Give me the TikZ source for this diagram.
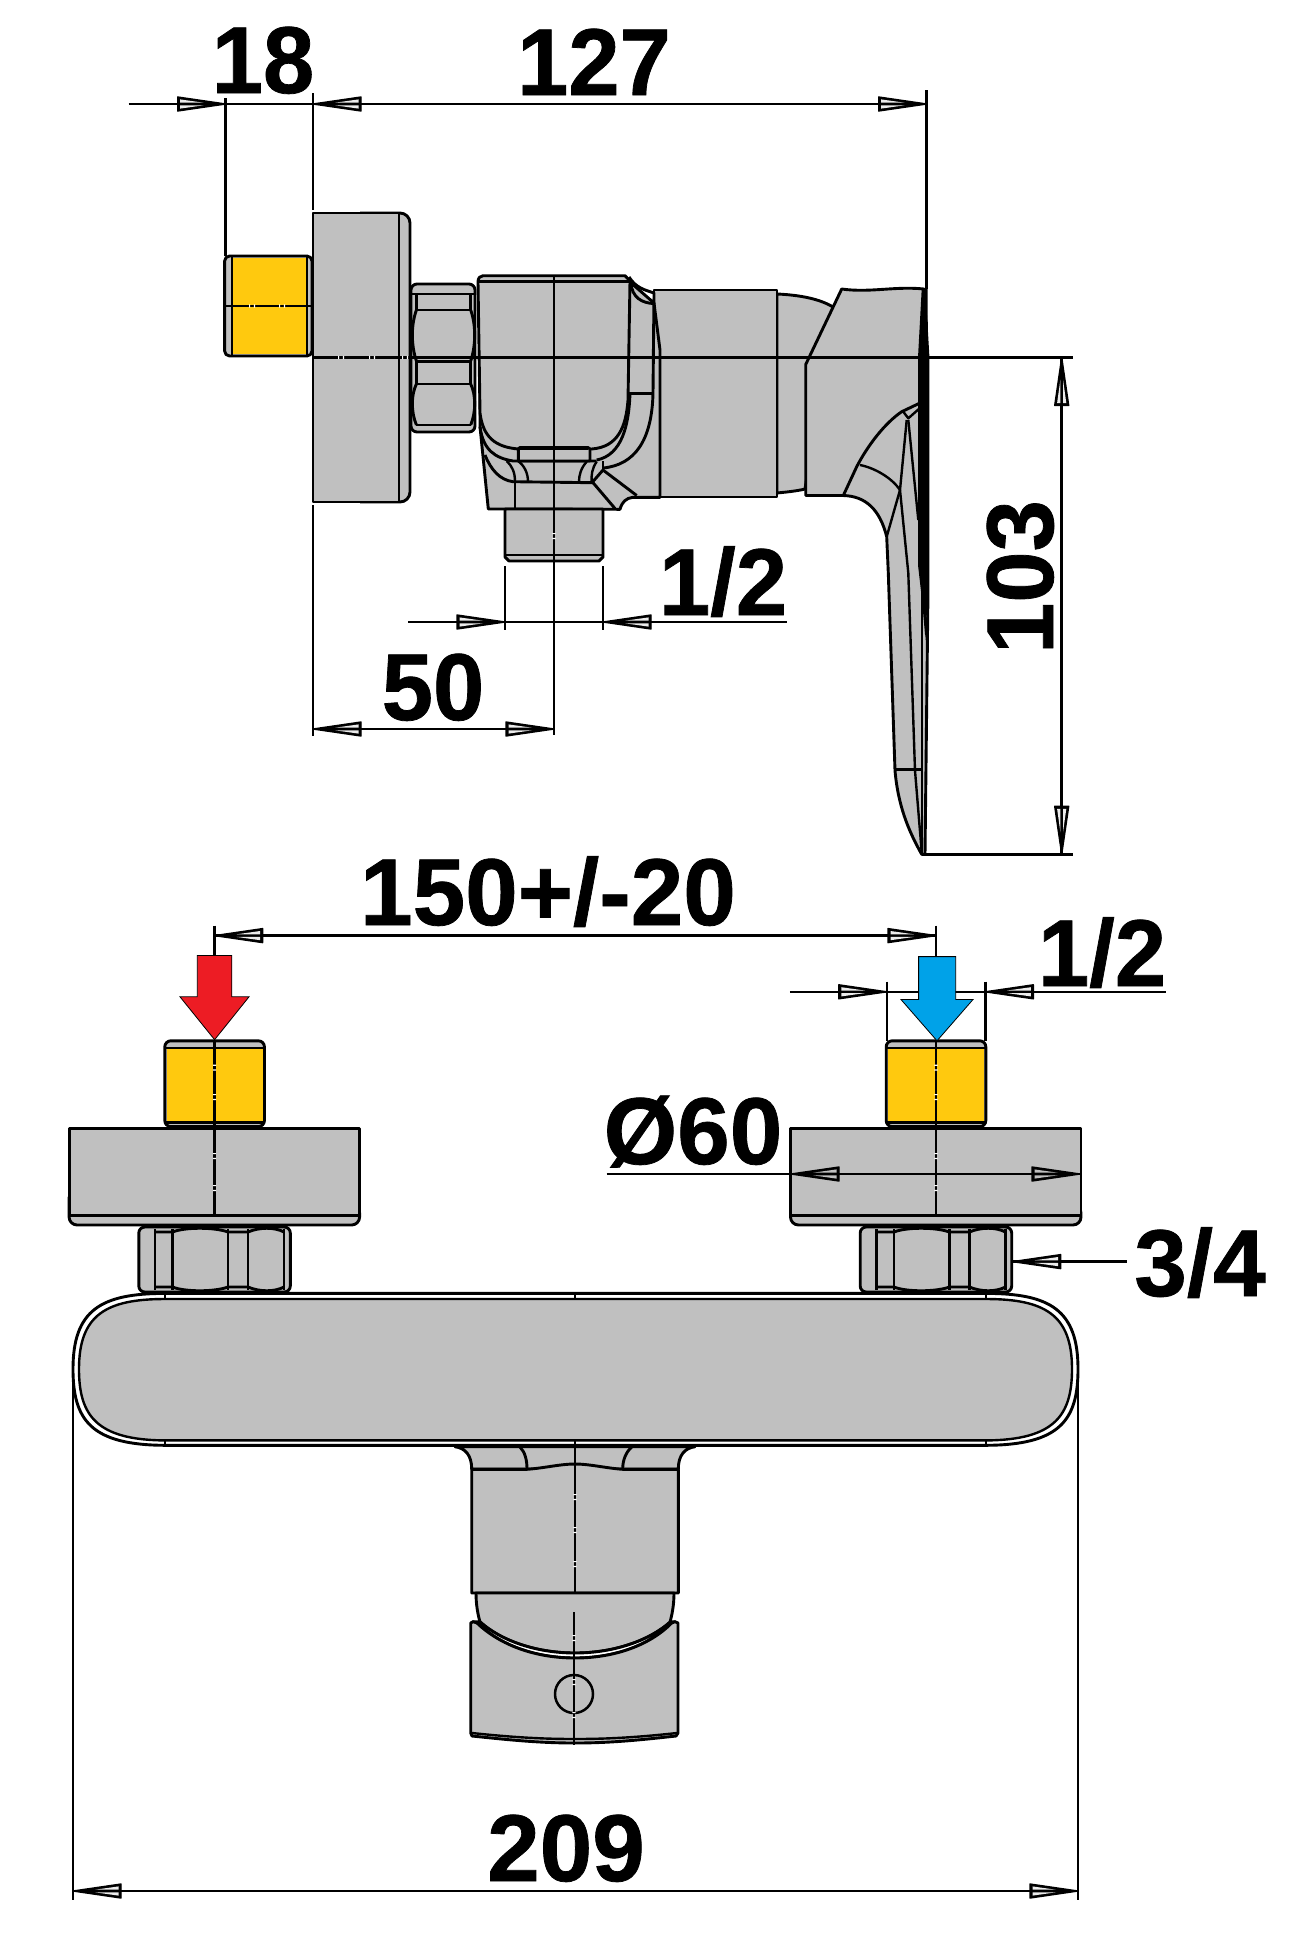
\documentclass[tikz,border=0pt]{standalone}
\usepackage{fontspec}
\setmainfont{Liberation Sans}
\newfontfamily\dimfont{Liberation Sans Bold}[FakeBold=0.8,FakeStretch=0.97]
\newfontfamily\dimfontw{Liberation Sans Bold}[FakeBold=0.8,FakeStretch=0.995]
\definecolor{partgray}{HTML}{C0C0C0}
\definecolor{brass}{HTML}{FFC90E}
\definecolor{hotred}{HTML}{ED1C24}
\definecolor{coldblue}{HTML}{00A2E8}
\newcommand{\tipbody}[1]{%
  \path[fill=black,draw=black,line width=0.7pt,line join=round] (0,0)--(48,7)--(48,-7)--cycle;
  \fill[#1] (22,1.3)--(45.5,1.3)--(45.5,4.6)--cycle;
  \fill[#1] (22,-1.3)--(45.5,-1.3)--(45.5,-4.6)--cycle;}
\newcommand{\hgap}[2]{\fill[white] (#1-3,#2-1.6) rectangle (#1-1.8,#2+1.6) (#1+1.8,#2-1.6) rectangle (#1+3,#2+1.6);}
\newcommand{\vgap}[2]{\fill[white] (#1-1.6,#2-3) rectangle (#1+1.6,#2-1.8) (#1-1.6,#2+1.8) rectangle (#1+1.6,#2+3);}
\tikzset{
  part/.style={draw=black,line width=1.45pt,fill=partgray,line join=round},
  edge/.style={draw=black,line width=1.45pt,line join=round},
  thin edge/.style={draw=black,line width=1.2pt,line join=round},
  dimline/.style={draw=black,line width=1.3pt},
  lab/.style={font=\dimfont\fontsize{47.5}{48}\selectfont,inner sep=0pt,anchor=base,text=black},
  labw/.style={font=\dimfontw\fontsize{47.5}{48}\selectfont,inner sep=0pt,anchor=base,text=black},
  dimtip/.pic={\tipbody{white!85!gray}},
  dimtipg/.pic={\tipbody{partgray}},
}
\begin{document}
\begin{tikzpicture}[x=0.5pt,y=-0.5pt]
\useasboundingbox (0,0) rectangle (1292,1960);
\fill[white] (0,0) rectangle (1292,1960);

%% ===== side view =====
% neck behind the lever
\path[part] (777,294) .. controls (800,295) and (820,299) .. (833,307) -- (805,489) .. controls (797,491) and (787,492) .. (777,493) -- cycle;
% lever
\path[part] (841.7,289) .. controls (870,293) and (895,286) .. (924,289) -- (928,357.5) -- (928,590) -- (925,854.3) -- (921.7,854.3)
  .. controls (908,830) and (898,805) .. (895,770.6) -- (888.3,573) -- (886.7,536.7)
  .. controls (880,510) and (866,496) .. (843,495.5) -- (805.7,495.5) -- (805.7,364.5) -- cycle;
\draw[edge] (843.3,495.5) -- (856.7,466.7) .. controls (868,445) and (885,423) .. (901.7,411.7) -- (920,403);
\draw[thin edge] (903.3,411.7) -- (908.3,418.3) -- (920,408);
\draw[thin edge] (860,465) .. controls (875,468) and (892,478) .. (900,490);
\draw[thin edge] (886.7,536.7) -- (900,490) -- (906.7,420);
\draw[thin edge] (900,490) -- (908.3,573) -- (915,770.6) -- (921.7,852);
\draw[thin edge] (908.3,420) -- (918.3,520);
\draw[thin edge] (895,769.4) -- (921.7,769.4);
\draw[thin edge] (921.7,591) -- (921.7,854);
\fill[black] (921.7,289) -- (927.5,289) -- (928,357.5) -- (928,590) -- (925.5,640) -- (922,600) -- (918,565) -- (918,357.5) -- cycle;
% cylinder
\path[part] (654,290) rectangle (777,497);
% lower body
\path[part] (480,426.7) -- (488.3,509) -- (620,509.3) .. controls (622,502) and (626,498) .. (633,497.3) -- (660,497.3) -- (660,350) -- (654,303) -- (630,282) -- (480,282) -- cycle;
\path[part] (505,509) -- (603,509) -- (603,557) -- (599,561) -- (509,561) -- (505,557) -- cycle;
\draw[edge] (505,555) -- (603,555);
% wall at right of the block
\draw[edge] (630.7,282) .. controls (632,298) and (642,303) .. (654,303.6);
\draw[edge] (629,277) .. controls (636,288) and (645,290) .. (654,293) -- (653,393) .. controls (652,440) and (635,465) .. (603,468);
\draw[edge] (629,393.6) -- (653,393.6);
\draw[edge] (630,393) .. controls (629,425) and (622,455) .. (596.7,460);
% fillets under the block
\draw[edge] (480,426.7) .. controls (483,450) and (495,458) .. (513,461) -- (596.7,461);
\draw[edge] (485,455) .. controls (491,470) and (500,480) .. (513,481.7) -- (593,482.7);
\draw[edge] (515,483) -- (515,508);
\draw[thin edge] (506.7,461) .. controls (512,466) and (515,472) .. (515,481.7);
\draw[thin edge] (518,461) .. controls (525,466) and (528,474) .. (528,481.7);
\draw[thin edge] (586.7,461.7) .. controls (581,468) and (579,475) .. (579,481.7);
\draw[thin edge] (596.7,461.7) .. controls (592,468) and (591,476) .. (591.7,482);
\draw[edge] (591.7,483) -- (603,470) -- (636.7,495.5);
\draw[edge] (593.3,483) -- (615,508.5);
\draw[thin edge] (603,461) -- (603,470);
% block
\path[part] (478,282) .. controls (478,278) and (480,275.7) .. (483,275.7) -- (625,275.7) -- (630,281) -- (628,400)
  .. controls (626,427) and (618,447) .. (591.7,449) -- (518.3,449) .. controls (495,447) and (483,437) .. (480,413) -- cycle;
\draw[edge] (478,281.4) -- (630,281.4);
\path[part] (518.3,461) -- (518.3,449) -- (520,447.5) -- (588,447.5) -- (590,449) -- (590,461) -- cycle;
\draw[draw=black,line width=2.2pt] (520,448) -- (588,448);
% nut
\path[part,rounded corners=3pt] (411,284) rectangle (475,432);
\draw[edge] (411,294) -- (475,294);
\draw[edge] (416,310) -- (471,310) (416,361.4) -- (471,361.4) (416,384) -- (471,384) (416,425) -- (471,425);
\draw[edge] (416.4,294) -- (416.4,310) (470.7,294) -- (470.7,310) (416.4,361) -- (416.4,384) (470.7,361) -- (470.7,384);
\draw[edge] (416.4,310) .. controls (411,325) and (411,345) .. (416.4,361);
\draw[edge] (470.7,310) .. controls (476,325) and (476,345) .. (470.7,361);
\draw[edge] (416.4,384) .. controls (411,395) and (411,412) .. (416.4,425);
\draw[edge] (470.7,384) .. controls (476,395) and (476,412) .. (470.7,425);
% flange
\path[part,rounded corners=5pt] (360,213) -- (410,213) -- (410,502) -- (360,502);
\path[part] (313,213) rectangle (399,502);
% brass connector
\path[part,rounded corners=2.5pt] (224.6,256) rectangle (312,356);
\fill[brass] (232,258) rectangle (307,354.4);
\draw[edge] (232,256) -- (232,356) (307,256) -- (307,356);
\draw[edge] (224.6,306) -- (312,306);
% centre lines
\draw[edge] (313,357.5) -- (1072.7,357.5);
\draw[edge] (554,275.7) -- (554,735);
\hgap{252}{306}\hgap{282}{306}\hgap{341}{357.5}\hgap{372}{357.5}\hgap{405}{357.5}
\vgap{554}{536}

%% ===== side view dimensions =====
\coordinate (dA) at (128.6,104);
\coordinate (dB) at (225.7,104);
\coordinate (dC) at (313,104);
\coordinate (dD) at (926.7,104);
\draw[dimline] (dA) -- (dD);
\draw[dimline] (225.7,98) -- (225.7,256);
\draw[dimline] (313,93) -- (313,210);
\draw[dimline] (313,505) -- (313,736);
\draw[dimline] (926.7,90) -- (926.7,289);
\pic at (dB) [rotate=180] {dimtip};
\pic at (dC) {dimtip};
\pic at (dD) [rotate=180] {dimtip};
\node[lab] (n18) at (263,93) {18};
\node[lab] (n127) at (594,95) {127};
% 103
\coordinate (eA) at (1061.7,357.5);
\coordinate (eB) at (1061.7,854.3);
\draw[dimline] (925,854.3) -- (1072.7,854.3);
\draw[dimline] (eA) -- (eB);
\pic at (eA) [rotate=-90] {dimtip};
\pic at (eB) [rotate=90] {dimtip};
\node[lab,rotate=90] (n103) at (1053,577) {103};
% 1/2 (stem)
\coordinate (fA) at (408,622);
\coordinate (fB) at (505,622);
\coordinate (fC) at (603,622);
\coordinate (fD) at (786.7,622);
\draw[dimline] (fA) -- (fD);
\draw[dimline] (505,566) -- (505,630);
\draw[dimline] (603,566) -- (603,630);
\pic at (fB) [rotate=180] {dimtip};
\pic at (fC) {dimtip};
\node[lab] (n12a) at (723,615) {1/2};
% 50
\coordinate (gA) at (313,729);
\coordinate (gB) at (554,729);
\draw[dimline] (gA) -- (gB);
\pic at (gA) {dimtip};
\pic at (gB) [rotate=180] {dimtip};
\node[lab] (n50) at (433,720) {50};

%% ===== front view =====
% neck with fillets
\path[part] (455,1446.7) .. controls (465,1448) and (471.7,1455) .. (471.7,1469) -- (678.3,1469) .. controls (678.3,1455) and (685,1448) .. (695,1446.7) -- cycle;
\draw[edge] (520,1447) .. controls (525,1452) and (527,1460) .. (527,1469);
\draw[edge] (631.7,1447) .. controls (626,1452) and (622.7,1460) .. (622.7,1469);
% box
\path[part] (471.7,1469.3) -- (527,1469.3) .. controls (545,1468) and (560,1464) .. (575,1464) .. controls (590,1464) and (605,1468) .. (622.7,1469.3) -- (678.3,1469.3) -- (678.3,1593) -- (471.7,1593) -- cycle;
% lever
\path[part] (476,1593) .. controls (476,1605) and (478,1615) .. (480,1622) .. controls (500,1640) and (535,1653) .. (575,1653) .. controls (615,1653) and (650,1640) .. (670,1622) .. controls (672,1615) and (674,1605) .. (674,1593) -- cycle;
\path[draw=black,line width=1.45pt,fill=white,line join=round] (473,1621.7) -- (477,1623) .. controls (500,1645) and (535,1658) .. (575,1658) .. controls (615,1658) and (650,1645) .. (671.7,1623) -- (675,1621.7) -- (671,1621.7) .. controls (650,1640) and (615,1653) .. (575,1653) .. controls (535,1653) and (500,1640) .. (480,1621.7) -- cycle;
\path[part] (473,1621.7) -- (477,1623) .. controls (500,1645) and (535,1658) .. (575,1658) .. controls (615,1658) and (650,1645) .. (671.7,1623) -- (675,1621.7) -- (678,1623) -- (678,1733) -- (676,1736)
  .. controls (640,1740) and (610,1743) .. (575,1743) .. controls (540,1743) and (510,1740) .. (472,1736) -- (470.7,1733) -- (470.7,1623) -- cycle;
\draw[thin edge] (472,1733) .. controls (510,1737) and (540,1739) .. (575,1739) .. controls (610,1739) and (640,1737) .. (677,1733);
\node[draw=black,line width=1.25pt,circle,minimum size=19pt,inner sep=0pt] (screw) at (574,1694) {};
% bar
\path[draw=black,line width=1.45pt,fill=white] (165,1293.4) -- (986,1293.4) .. controls (1050,1293.4) and (1078,1310) .. (1078,1369) .. controls (1078,1420) and (1060,1445) .. (986,1445.3) -- (165,1445.3) .. controls (91,1445) and (73,1420) .. (73,1369) .. controls (73,1310) and (101,1293.4) .. (165,1293.4) -- cycle;
\path[draw=black,line width=1.2pt,fill=partgray] (165,1299) -- (986,1299) .. controls (1045,1299) and (1072,1315) .. (1072,1369) .. controls (1072,1415) and (1055,1440) .. (986,1440.4) -- (165,1440.4) .. controls (96,1440) and (79,1415) .. (79,1369) .. controls (79,1315) and (106,1299) .. (165,1299) -- cycle;
\draw[edge] (165,1293.4) -- (165,1299) (165,1440.4) -- (165,1445.3) (986,1293.4) -- (986,1299) (986,1440.4) -- (986,1445.3) (575,1293.4) -- (575,1299);
% centre lines of the neck and lever
\draw[edge] (575,1440) -- (575,1593);
\draw[edge] (574,1612) -- (574,1745);
\vgap{575}{1497}\vgap{575}{1530}\vgap{575}{1564}
\vgap{574}{1638}\vgap{574}{1682}\vgap{574}{1715}
% fittings
\foreach \cx in {214.6,936}{
\begin{scope}[shift={(\cx,0)}]
  \path[part,rounded corners=3pt] (-75.8,1227) rectangle (75.7,1292);
  \draw[edge] (-59.6,1229) -- (-59.6,1290);
  \draw[edge] (-42,1229) -- (-42,1290);
  \draw[edge] (13.4,1229) -- (13.4,1290);
  \draw[edge] (33.4,1229) -- (33.4,1290);
  \draw[edge] (69.4,1229) -- (69.4,1290);
  \draw[edge] (-59.6,1232) -- (-42,1232) .. controls (-30,1227) and (0,1227) .. (13.4,1232) -- (33.4,1232) .. controls (45,1227) and (60,1227) .. (69.4,1232);
  \draw[edge] (-59.6,1287) -- (-42,1287) .. controls (-30,1292) and (0,1292) .. (13.4,1287) -- (33.4,1287) .. controls (45,1292) and (60,1292) .. (69.4,1287);
  \path[part,rounded corners=4pt] (-145.5,1205) |- (145,1225) |- cycle;
  \path[part] (-145.5,1128.5) rectangle (145,1215.7);
  \path[part,rounded corners=3pt] (-49.8,1040.8) rectangle (49.8,1126.6);
  \fill[brass] (-48,1048.5) rectangle (48,1122);
  \draw[edge] (-49.8,1048) -- (49.8,1048) (-49.8,1122.5) -- (49.8,1122.5);
  \draw[edge] (0,1040.8) -- (0,1126.6);
  \draw[edge] (0,1130) -- (0,1215.7);
  \vgap{0}{1067.6}\vgap{0}{1097}\vgap{0}{1156}\vgap{0}{1188}
\end{scope}
}

%% ===== front view dimensions =====
% 150+/-20
\coordinate (hA) at (214.6,935.6);
\coordinate (hB) at (936,935.6);
\draw[dimline] (hA) -- (hB);
\draw[dimline] (214.6,925.6) -- (214.6,960);
\draw[dimline] (936,925.6) -- (936,960);
\pic at (hA) {dimtip};
\pic at (hB) [rotate=180] {dimtip};
\node[labw] (n150) at (548,925) {150+/-20};
% 1/2 (front)
\coordinate (iA) at (789.8,991.8);
\coordinate (iB) at (886.8,991.8);
\coordinate (iC) at (985.3,991.8);
\coordinate (iD) at (1165.7,991.8);
\draw[dimline] (iA) -- (iD);
\draw[dimline] (886.8,981.5) -- (886.8,1040.8);
\draw[dimline] (985.3,981.5) -- (985.3,1040.8);
\pic at (iB) [rotate=180] {dimtip};
\pic at (iC) {dimtip};
\node[lab] (n12b) at (1102,986) {1/2};
% inlet arrows
\path[fill=hotred,draw=black,line width=0.4pt] (197.3,955.5) -- (231.8,955.5) -- (231.8,996.8) -- (249,996.8) -- (214.6,1039.7) -- (180,996.8) -- (197.3,996.8) -- cycle;
\path[fill=coldblue,draw=black,line width=0.4pt] (918.6,956.6) -- (955.7,956.6) -- (955.7,999.5) -- (973,999.5) -- (937,1040.8) -- (901,999.5) -- (918.6,999.5) -- cycle;
% diameter 60
\coordinate (jA) at (606.6,1174);
\coordinate (jB) at (791,1174);
\coordinate (jC) at (1080,1174);
\draw[dimline] (jA) -- (jC);
\pic at (jB) {dimtipg};
\pic at (jC) [rotate=180] {dimtipg};
\node[labw] (n60) at (693,1164) {Ø60};
% 3/4
\coordinate (kA) at (1012.6,1261.6);
\coordinate (kB) at (1127,1261.6);
\draw[dimline] (kA) -- (kB);
\pic at (kA) {dimtip};
\node[labw] (n34) at (1200,1296) {3/4};
% 209
\coordinate (lA) at (73,1891);
\coordinate (lB) at (1078,1891);
\draw[dimline] (lA) -- (lB);
\draw[dimline] (73,1369) -- (73,1900);
\draw[dimline] (1078,1369) -- (1078,1900);
\pic at (lA) {dimtip};
\pic at (lB) [rotate=180] {dimtip};
\node[labw] (n209) at (566,1881) {209};
\end{tikzpicture}
\end{document}
